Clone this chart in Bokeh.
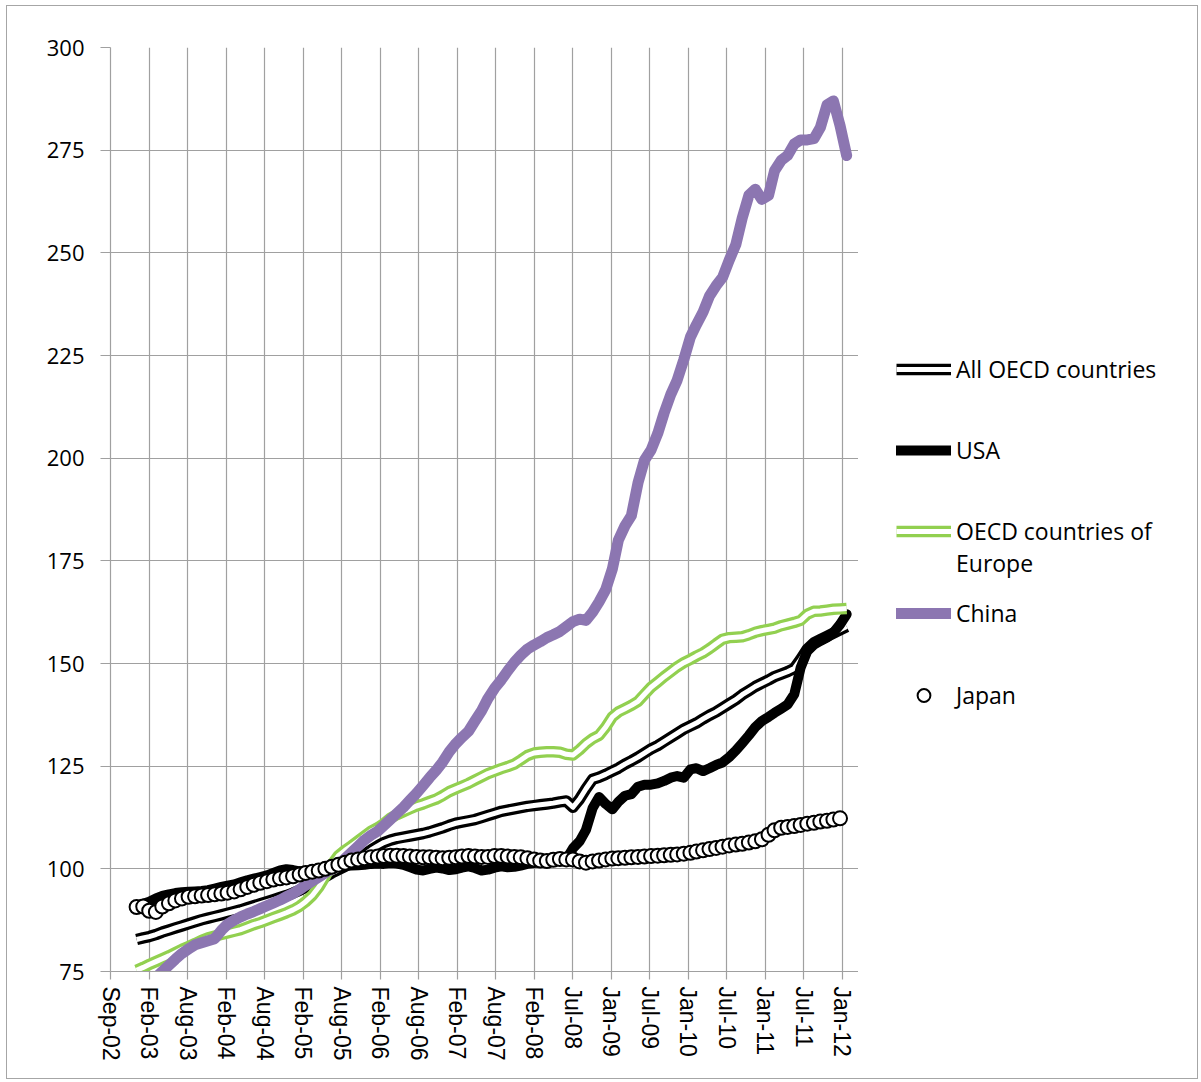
import math
import pandas as pd
from bokeh.plotting import figure
from bokeh.layouts import row
from bokeh.models import FixedTicker, Legend, LegendItem, Range1d
from bokeh.embed import file_html
from bokeh.resources import INLINE

# ---------------- data ----------------
axis_start = "2002-09-01"      # first date of the x axis
first_month = "2003-01-01"     # first monthly observation

tick_labels = ["Sep-02", "Feb-03", "Aug-03", "Feb-04", "Aug-04", "Feb-05", "Aug-05",
               "Feb-06", "Aug-06", "Feb-07", "Aug-07", "Feb-08", "Jul-08", "Jan-09",
               "Jul-09", "Jan-10", "Jul-10", "Jan-11", "Jul-11", "Jan-12"]
y_ticks = [75, 100, 125, 150, 175, 200, 225, 250, 275, 300]

all_oecd = [82.8, 83.2, 83.5, 84.0, 84.6, 85.1, 85.6, 86.1, 86.6, 87.1, 87.6, 88.0,
            88.4, 88.8, 89.2, 89.6, 90.0, 90.5, 91.0, 91.5, 92.0, 92.5, 93.0, 93.5,
            94.1, 94.8, 95.5, 96.3, 97.2, 98.1, 99.0, 99.8, 100.6, 101.5, 102.5, 103.5,
            104.6, 105.6, 106.4, 107.0, 107.4, 107.7, 108.0, 108.3, 108.6, 109.0, 109.5, 110.0,
            110.6, 111.1, 111.4, 111.7, 112.0, 112.5, 113.0, 113.5, 114.0, 114.3, 114.6, 114.9,
            115.2, 115.4, 115.6, 115.8, 116.0, 116.3, 116.5, 115.0, 117.0, 119.5, 121.8, 122.3,
            123.0, 123.8, 124.5, 125.5, 126.3, 127.2, 128.2, 129.2, 130.0, 131.0, 132.0, 133.0,
            134.0, 134.8, 135.5, 136.5, 137.4, 138.2, 139.2, 140.2, 141.2, 142.4, 143.4, 144.4,
            145.2, 146.0, 146.8, 147.4, 148.0, 148.8, 151.0, 153.5, 155.0, 155.8, 156.6, 157.4,
            158.2, 159.0]

usa = [91.0, 91.5, 92.0, 92.8, 93.4, 93.8, 94.1, 94.3, 94.4, 94.5, 94.6, 94.8,
       95.2, 95.6, 95.9, 96.2, 96.7, 97.2, 97.6, 98.0, 98.4, 99.0, 99.6, 99.9,
       99.7, 99.4, 99.5, 99.6, 99.8, 100.0, 100.3, 100.5, 100.7, 100.8, 100.9, 101.0,
       101.2, 101.3, 101.2, 101.4, 101.3, 101.0, 100.4, 99.8, 99.6, 100.0, 100.3, 100.1,
       99.7, 99.9, 100.3, 100.6, 100.2, 99.6, 99.8, 100.3, 100.6, 100.4, 100.5, 100.8,
       101.2, 101.4, 101.6, 101.8, 101.9, 102.0, 102.3, 105.0, 106.7, 109.5, 114.8, 117.5,
       115.8, 114.5, 116.3, 117.8, 118.2, 120.0, 120.5, 120.5, 120.8, 121.4, 122.2, 122.6,
       122.2, 124.2, 124.5, 123.8, 124.5, 125.3, 125.9, 127.2, 128.8, 130.6, 132.5, 134.5,
       136.0, 137.0, 138.0, 139.0, 140.0, 142.5, 149.0, 153.0, 154.6, 155.5, 156.3, 157.5,
       159.5, 162.0]

europe = [75.3, 76.0, 76.7, 77.4, 78.1, 78.8, 79.6, 80.4, 81.1, 81.8, 82.6, 83.2,
          83.6, 84.0, 84.4, 84.8, 85.2, 85.8, 86.4, 86.9, 87.5, 88.1, 88.7, 89.3,
          90.0, 90.9, 92.0, 93.5, 95.5, 98.2, 101.0, 103.2, 104.5, 105.6, 106.8, 108.0,
          109.2, 110.0, 111.0, 112.3, 113.2, 113.9, 114.6, 115.3, 115.8, 116.4, 117.0, 117.8,
          118.8, 119.5, 120.1, 120.8, 121.6, 122.4, 123.2, 123.8, 124.4, 124.9, 125.5, 126.5,
          127.6, 128.2, 128.4, 128.5, 128.5, 128.4, 127.9, 127.7, 129.0, 130.5, 131.7, 132.5,
          134.5, 137.0, 138.2, 139.0, 139.8, 140.8, 142.5, 144.2, 145.5, 146.8, 148.0, 149.2,
          150.2, 151.0, 151.8, 152.6, 153.6, 154.8, 155.9, 156.3, 156.4, 156.5, 157.0, 157.6,
          158.0, 158.3, 158.6, 159.2, 159.6, 160.0, 160.5, 162.0, 162.7, 162.8, 163.0, 163.2,
          163.3, 163.4]

china = [71.0, 72.0, 72.5, 73.5, 75.0, 76.5, 78.0, 79.4, 80.5, 81.5, 82.0, 82.5,
         83.0, 85.0, 86.5, 87.5, 88.3, 89.0, 89.6, 90.3, 91.0, 91.7, 92.4, 93.2,
         94.0, 95.0, 96.0, 97.0, 98.0, 99.0, 100.0, 101.0, 102.5, 104.0, 105.5, 107.0,
         108.2, 109.2, 110.5, 112.0, 113.5, 115.0, 116.7, 118.4, 120.3, 122.2, 124.0, 126.0,
         128.5, 130.5, 132.0, 133.5, 136.0, 138.5, 141.5, 144.0, 146.0, 148.2, 150.3, 152.0,
         153.5, 154.5, 155.3, 156.3, 157.0, 157.8, 159.0, 160.2, 160.8, 160.5, 162.5, 165.0,
         168.0, 173.0, 180.0, 183.5, 186.0, 194.0, 199.5, 202.0, 206.0, 211.0, 215.5, 219.0,
         224.0, 229.5, 232.5, 235.6, 239.5, 242.0, 244.0, 248.2, 252.0, 258.5, 264.0, 265.5,
         263.0, 264.0, 270.0, 272.5, 273.7, 276.5, 277.5, 277.5, 277.8, 280.5, 286.0, 287.0,
         281.0, 273.7]

japan = [90.7, 90.8, 89.8, 89.5, 90.8, 91.6, 92.3, 92.8, 93.2, 93.3, 93.5, 93.6,
         93.8, 94.0, 94.2, 94.5, 95.0, 95.6, 96.1, 96.6, 97.0, 97.4, 97.7, 97.9,
         98.2, 98.6, 99.0, 99.3, 99.6, 100.0, 100.5, 101.0, 101.5, 102.0, 102.3, 102.6,
         102.8, 103.0, 103.1, 103.2, 103.2, 103.1, 103.0, 102.9, 102.8, 102.8, 102.7, 102.6,
         102.7, 102.8, 103.0, 103.1, 103.0, 102.9, 102.9, 103.1, 103.1, 103.0, 102.9, 102.8,
         102.6, 102.3, 102.0, 101.9, 102.2, 102.4, 102.3, 102.3, 101.8, 101.5, 101.8, 102.0,
         102.3, 102.5, 102.6, 102.7, 102.8, 102.9, 103.0, 103.1, 103.2, 103.3, 103.4, 103.5,
         103.7, 103.9, 104.2, 104.5, 104.8, 105.1, 105.4, 105.7, 105.9, 106.1, 106.4, 106.7,
         107.2, 108.3, 109.4, 110.0, 110.2, 110.4, 110.7, 111.0, 111.2, 111.5, 111.7, 112.0,
         112.3]

# ---------------- x positions (days since axis start) ----------------
months = pd.date_range(first_month, periods=len(china), freq="MS")
days = [int(d) for d in (months - pd.Timestamp(axis_start)).days]
tick_days = [180 * k for k in range(len(tick_labels))]

GRID = "#A0A0A0"
BORDER = "1px solid #A6A6A6"
FONT = "Open Sans"
GREEN = "#92D050"
PURPLE = "#8C76B1"

# ---------------- main chart ----------------
p = figure(width=852, height=1074, x_range=Range1d(0, 3500), y_range=Range1d(75, 300),
           output_backend="svg", toolbar_location=None,
           min_border_left=103, min_border_right=0, min_border_top=41, min_border_bottom=109)
p.styles = {"border-left": BORDER, "border-top": BORDER, "border-bottom": BORDER}
p.outline_line_color = None
p.background_fill_color = "white"
p.border_fill_color = "white"

p.xaxis.ticker = FixedTicker(ticks=tick_days)
p.xaxis.major_label_overrides = {d: lab for d, lab in zip(tick_days, tick_labels)}
p.xaxis.major_label_orientation = -math.pi / 2
p.yaxis.ticker = FixedTicker(ticks=y_ticks)
p.xgrid.ticker = FixedTicker(ticks=tick_days)
p.ygrid.ticker = FixedTicker(ticks=y_ticks)
for g in (p.xgrid, p.ygrid):
    g.grid_line_color = GRID
    g.grid_line_width = 1.2

for ax in (p.xaxis, p.yaxis):
    ax.axis_line_color = GRID
    ax.axis_line_width = 1.2
    ax.major_tick_line_color = GRID
    ax.major_tick_line_width = 1.2
    ax.major_tick_in = 0
    ax.minor_tick_line_color = None
    ax.major_label_text_color = "black"
p.yaxis.major_label_text_font = FONT
p.yaxis.major_label_text_font_size = "22px"
p.xaxis.major_label_text_font = "Liberation Sans"
p.xaxis.major_label_text_font_size = "23px"
p.xaxis.major_tick_out = 8
p.xaxis.major_label_standoff = 7
p.yaxis.major_tick_out = 10
p.yaxis.major_label_standoff = 16

OUTER_W, INNER_W = 11.5, 5
def styles_oecd(): return dict(line_color="black", line_width=OUTER_W, line_join="round")
def styles_oecd_in(): return dict(line_color="white", line_width=INNER_W, line_join="round")
def styles_usa(): return dict(line_color="black", line_width=10, line_join="round", line_cap="round")
def styles_eu(): return dict(line_color=GREEN, line_width=OUTER_W, line_join="round")
def styles_eu_in(): return dict(line_color="white", line_width=INNER_W, line_join="round")
def styles_china(): return dict(line_color=PURPLE, line_width=11, line_join="round", line_cap="round")
def styles_japan(): return dict(marker="circle", fill_color="white", line_color="black", line_width=2)

p.line(days[:len(all_oecd)], all_oecd, **styles_oecd())
p.line(days[:len(all_oecd)], all_oecd, **styles_oecd_in())
p.line(days[:len(usa)], usa, **styles_usa())
p.line(days[:len(europe)], europe, **styles_eu())
p.line(days[:len(europe)], europe, **styles_eu_in())
p.line(days[:len(china)], china, **styles_china())
p.scatter(days[:len(japan)], japan, size=14, **styles_japan())

# ---------------- legend panel ----------------
q = figure(width=340, height=1074, x_range=Range1d(0, 1), y_range=Range1d(0, 1),
           x_axis_type=None, y_axis_type=None, output_backend="svg", toolbar_location=None,
           min_border=0)
q.styles = {"border-right": BORDER, "border-top": BORDER, "border-bottom": BORDER}
q.grid.visible = False
q.outline_line_color = None
q.background_fill_color = "white"
q.border_fill_color = "white"

# legend-only stand-ins, placed outside the visible range of the legend panel
hx, hy = [-10], [-10]
l_oecd = [q.line(hx, hy, **styles_oecd()), q.line(hx, hy, **styles_oecd_in())]
l_usa = [q.line(hx, hy, **styles_usa())]
l_eu = [q.line(hx, hy, **styles_eu()), q.line(hx, hy, **styles_eu_in())]
l_china = [q.line(hx, hy, **styles_china())]
l_japan = [q.scatter(hx, hy, size=10, **styles_japan())]

# the leading blank line keeps the swatch level with the first text line
entries = [("All OECD countries", l_oecd, 367),
           ("USA", l_usa, 448),
           ("\nOECD countries of\nEurope", l_eu, 561),
           ("China", l_china, 611),
           ("Japan", l_japan, 693)]
PANEL_LEFT, PANEL_BOTTOM, ITEM_H = 859, 969, 32
for label, rends, cy in entries:
    leg = Legend(items=[LegendItem(label=label, renderers=rends)],
                 location=(897 - PANEL_LEFT, PANEL_BOTTOM - cy - ITEM_H / 2),
                 glyph_width=55, glyph_height=ITEM_H, label_height=ITEM_H, label_standoff=5,
                 padding=0, margin=0, spacing=0, border_line_color=None, background_fill_alpha=0,
                 label_text_font=FONT, label_text_font_size="23px", label_text_color="black")
    q.add_layout(leg)

layout = row(p, q)
layout.styles = {"margin-left": "6px", "margin-top": "5px"}

open("out.html", "w").write(file_html(layout, INLINE))
